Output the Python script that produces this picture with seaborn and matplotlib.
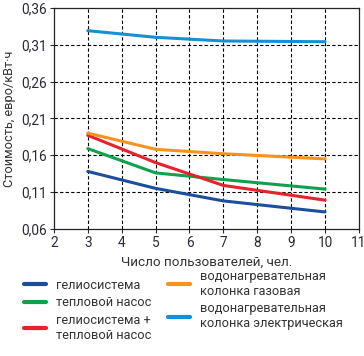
import pandas as pd
import matplotlib
matplotlib.use('Agg')
import matplotlib.pyplot as plt
import seaborn as sns
from matplotlib.ticker import FuncFormatter

# Data
users = [3, 5, 7, 10]
solar = [0.138, 0.115, 0.098, 0.083]
heat_pump = [0.169, 0.136, 0.127, 0.114]
solar_heat_pump = [0.187, 0.150, 0.119, 0.099]
gas_heater = [0.190, 0.168, 0.162, 0.155]
electric_heater = [0.329, 0.320, 0.315, 0.314]

labels = [
    'гелиосистема',
    'тепловой насос',
    'гелиосистема +\nтепловой насос',
    'водонагревательная\nколонка газовая',
    'водонагревательная\nколонка электрическая',
]
colors = ['#1b4f9c', '#0ea24c', '#e8212b', '#f6921e', '#1590d5']

series = [solar, heat_pump, solar_heat_pump, gas_heater, electric_heater]
df = pd.concat(
    [pd.DataFrame({'users': users, 'cost': vals, 'system': lab})
     for lab, vals in zip(labels, series)],
    ignore_index=True,
)

sns.set_style('white')
plt.rcParams['font.family'] = ['Roboto', 'DejaVu Sans']

fig = plt.figure(figsize=(3.64, 3.56), dpi=100)
ax = fig.add_axes([0.148, 0.357, 0.838, 0.621])

sns.lineplot(data=df, x='users', y='cost', hue='system', hue_order=labels,
             palette=colors, linewidth=2.2, ax=ax, legend=False)

ax.set_xlim(2, 11)
ax.set_ylim(0.06, 0.36)
ax.set_xticks(range(2, 12))
ax.set_yticks([0.06, 0.11, 0.16, 0.21, 0.26, 0.31, 0.36])
ax.yaxis.set_major_formatter(FuncFormatter(lambda v, p: f'{v:.2f}'.replace('.', ',')))

for x in range(3, 11):
    ax.axvline(x, color='black', linestyle=(0, (3, 2)), linewidth=0.8, zorder=0)
for y in [0.11, 0.16, 0.21, 0.26, 0.31]:
    ax.axhline(y, color='black', linestyle=(0, (3, 2)), linewidth=0.8, zorder=0)

for s in ax.spines.values():
    s.set_color('#222222')
    s.set_linewidth(0.9)

ax.tick_params(axis='both', labelsize=9.8, colors='#2a2a3a', length=3, width=0.8,
               direction='out', left=True, bottom=True, pad=2)
ax.set_xlabel('Число пользователей, чел.', fontsize=9.7, color='#333333', labelpad=4)
ax.set_ylabel('Стоимость, евро/кВт·ч', fontsize=9.2, color='#333333', labelpad=4)

handles = [plt.Line2D([], [], color=c, linewidth=3) for c in colors]
fig.legend(handles, labels, ncol=2, loc='upper left', bbox_to_anchor=(0.035, 0.275),
           frameon=False, fontsize=9.2, handlelength=1.7, handletextpad=0.8,
           columnspacing=1.3, labelspacing=0.35, labelcolor='#333333')

fig.savefig('out.png', dpi=100)
